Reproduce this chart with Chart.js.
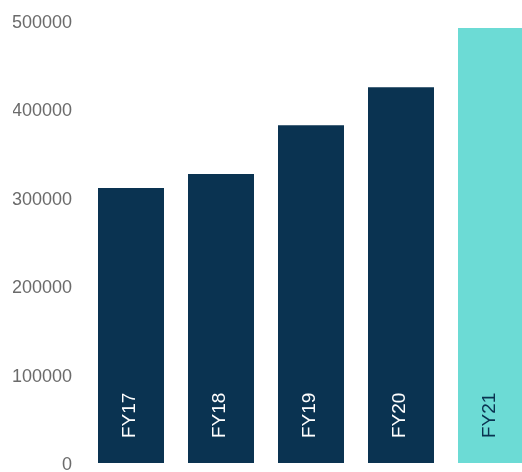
<!DOCTYPE html>
<html>
<head>
<meta charset="utf-8">
<script src="https://cdn.jsdelivr.net/npm/chart.js@4.4.1/dist/chart.umd.min.js"></script>
<style>
	html, body { margin: 0; padding: 0; background: #fff; overflow: hidden; }
	#wrap { width: 536px; height: 472px; }
</style>
</head>
<body>
<div id="wrap"><canvas id="revenue"></canvas></div>
<script>
var years = ['FY17', 'FY18', 'FY19', 'FY20', 'FY21'];
var revenue = [311000, 327000, 382000, 425000, 492000];
var barColors = ['#0a3351', '#0a3351', '#0a3351', '#0a3351', '#6cdbd5'];
var labelColors = ['#ffffff', '#ffffff', '#ffffff', '#ffffff', '#0a3351'];
var yTicks = [0, 100000, 200000, 300000, 400000, 500000];

// writes the year up the inside of each bar, near its foot
var barLabels = {
	id: 'barLabels',
	afterDatasetsDraw: function (chart) {
		var ctx = chart.ctx;
		var meta = chart.getDatasetMeta(0);
		ctx.save();
		ctx.font = '19px "Liberation Sans", Arial, sans-serif';
		ctx.textAlign = 'left';
		ctx.textBaseline = 'alphabetic';
		meta.data.forEach(function (bar, i) {
			ctx.save();
			ctx.translate(bar.x + 4, bar.base - 25);
			ctx.rotate(-Math.PI / 2);
			ctx.fillStyle = labelColors[i];
			ctx.fillText(years[i], 0, 0);
			ctx.restore();
		});
		ctx.restore();
	}
};

new Chart(document.getElementById('revenue'), {
	type: 'bar',
	data: {
		labels: years,
		datasets: [{
			data: revenue,
			backgroundColor: barColors,
			borderWidth: 0,
			categoryPercentage: 1,
			barPercentage: 66 / 90
		}]
	},
	options: {
		responsive: true,
		maintainAspectRatio: false,
		animation: false,
		layout: {padding: {left: 13, right: 0, top: 21, bottom: 9}},
		plugins: {legend: {display: false}, tooltip: {enabled: false}},
		scales: {
			x: {display: false},
			y: {
				min: 0,
				max: 500000,
				grid: {display: false, drawTicks: false},
				border: {display: false},
				afterBuildTicks: function (axis) {
					axis.ticks = yTicks.map(function (v) { return {value: v}; });
				},
				// fixed axis width, and no extra room above/below the plot
				afterFit: function (axis) {
					axis.width = 73;
					axis.paddingTop = 0;
					axis.paddingBottom = 0;
				},
				ticks: {
					padding: 14,
					labelOffset: 2,
					color: '#6b6b6b',
					font: {family: '"Liberation Sans", Arial, sans-serif', size: 18},
					callback: function (v) { return String(v); }
				}
			}
		}
	},
	plugins: [barLabels]
});
</script>
</body>
</html>
